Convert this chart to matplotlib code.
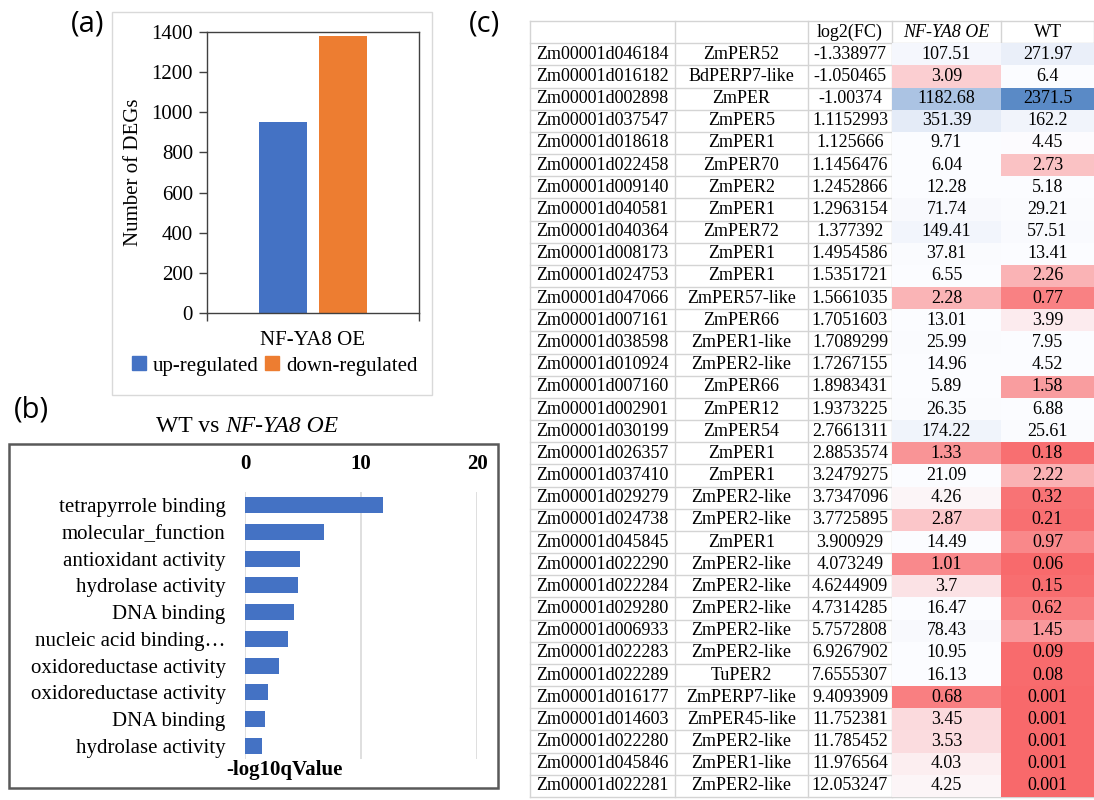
import numpy as np
import matplotlib
matplotlib.use("Agg")
import matplotlib.pyplot as plt
from matplotlib.patches import Rectangle, Patch
from matplotlib.colors import LinearSegmentedColormap, TwoSlopeNorm

# ---- data ----
# (a) number of DEGs
deg_groups = ["up-regulated", "down-regulated"]
deg_counts = [950, 1380]
deg_colors = ["#4472C4", "#ED7D31"]
deg_sample = "NF-YA8 OE"

# (b) GO enrichment
go_terms = ["tetrapyrrole binding", "molecular_function", "antioxidant activity",
            "hydrolase activity", "DNA binding", "nucleic acid binding\u2026",
            "oxidoreductase activity", "oxidoreductase activity", "DNA binding",
            "hydrolase activity"]
go_values = [11.9, 6.8, 4.7, 4.55, 4.25, 3.7, 2.9, 1.95, 1.72, 1.45]

# (c) peroxidase genes
gene_ids = ["Zm00001d046184", "Zm00001d016182", "Zm00001d002898", "Zm00001d037547",
            "Zm00001d018618", "Zm00001d022458", "Zm00001d009140", "Zm00001d040581",
            "Zm00001d040364", "Zm00001d008173", "Zm00001d024753", "Zm00001d047066",
            "Zm00001d007161", "Zm00001d038598", "Zm00001d010924", "Zm00001d007160",
            "Zm00001d002901", "Zm00001d030199", "Zm00001d026357", "Zm00001d037410",
            "Zm00001d029279", "Zm00001d024738", "Zm00001d045845", "Zm00001d022290",
            "Zm00001d022284", "Zm00001d029280", "Zm00001d006933", "Zm00001d022283",
            "Zm00001d022289", "Zm00001d016177", "Zm00001d014603", "Zm00001d022280",
            "Zm00001d045846", "Zm00001d022281"]
gene_names = ["ZmPER52", "BdPERP7-like", "ZmPER", "ZmPER5", "ZmPER1", "ZmPER70",
              "ZmPER2", "ZmPER1", "ZmPER72", "ZmPER1", "ZmPER1", "ZmPER57-like",
              "ZmPER66", "ZmPER1-like", "ZmPER2-like", "ZmPER66", "ZmPER12", "ZmPER54",
              "ZmPER1", "ZmPER1", "ZmPER2-like", "ZmPER2-like", "ZmPER1", "ZmPER2-like",
              "ZmPER2-like", "ZmPER2-like", "ZmPER2-like", "ZmPER2-like", "TuPER2",
              "ZmPERP7-like", "ZmPER45-like", "ZmPER2-like", "ZmPER1-like", "ZmPER2-like"]
log2fc = ["-1.338977", "-1.050465", "-1.00374", "1.1152993", "1.125666", "1.1456476",
          "1.2452866", "1.2963154", "1.377392", "1.4954586", "1.5351721", "1.5661035",
          "1.7051603", "1.7089299", "1.7267155", "1.8983431", "1.9373225", "2.7661311",
          "2.8853574", "3.2479275", "3.7347096", "3.7725895", "3.900929", "4.073249",
          "4.6244909", "4.7314285", "5.7572808", "6.9267902", "7.6555307", "9.4093909",
          "11.752381", "11.785452", "11.976564", "12.053247"]
oe_vals = [107.51, 3.09, 1182.68, 351.39, 9.71, 6.04, 12.28, 71.74, 149.41, 37.81,
           6.55, 2.28, 13.01, 25.99, 14.96, 5.89, 26.35, 174.22, 1.33, 21.09, 4.26,
           2.87, 14.49, 1.01, 3.7, 16.47, 78.43, 10.95, 16.13, 0.68, 3.45, 3.53, 4.03, 4.25]
wt_vals = [271.97, 6.4, 2371.5, 162.2, 4.45, 2.73, 5.18, 29.21, 57.51, 13.41, 2.26,
           0.77, 3.99, 7.95, 4.52, 1.58, 6.88, 25.61, 0.18, 2.22, 0.32, 0.21, 0.97,
           0.06, 0.15, 0.62, 1.45, 0.09, 0.08, 0.001, 0.001, 0.001, 0.001, 0.001]
table_header = ["", "", "log2(FC)", "NF-YA8 OE", "WT"]

# ---- layout helpers (pixel coords, origin top-left) ----
W, H = 1094, 800
plt.rcParams['font.family'] = ['Liberation Serif', 'DejaVu Serif']


def rect(x0, y0, x1, y1):
    return [x0 / W, 1 - y1 / H, (x1 - x0) / W, (y1 - y0) / H]


def ftext(x, y, s, **kw):
    fig.text(x / W, 1 - y / H, s, **kw)


fig = plt.figure(figsize=(W / 100, H / 100), dpi=100)

# ================= (a) =================
fig.add_artist(Rectangle((112 / W, 1 - 395 / H), 320 / W, 383 / H, transform=fig.transFigure,
                         fill=False, ec="#D9D9D9", lw=1))
ax1 = fig.add_axes(rect(207, 32, 419, 313))
offs = [-0.142, 0.142]
for c, off, v in zip(deg_colors, offs, deg_counts):
    ax1.bar(off, v, width=0.226, color=c)
ax1.set_xlim(-0.5, 0.5)
ax1.set_ylim(0, 1400)
ax1.set_yticks(np.arange(0, 1401, 200))
ax1.set_xticks([-0.5, 0.5], ["", ""])
ax1.tick_params(axis='both', direction='out', length=6, width=1, color="#404040",
                labelsize=15, pad=4)
for sp in ax1.spines.values():
    sp.set_color("#404040")
    sp.set_linewidth(1)
ftext(313, 340, deg_sample, ha='center', va='center', fontsize=15)
ftext(133, 172, "Number of DEGs", ha='center', va='center', rotation=90, fontsize=15)
handles = [Patch(color=c) for c in deg_colors]
fig.legend(handles, deg_groups, loc='center', bbox_to_anchor=(275 / W, 1 - 366 / H),
           ncol=2, frameon=False, fontsize=15, handlelength=0.65, handleheight=0.65,
           handletextpad=0.35, columnspacing=0.3, borderaxespad=0)

# ================= (b) =================
fig.add_artist(Rectangle((9 / W, 1 - 788 / H), 489 / W, 344 / H, transform=fig.transFigure,
                         fill=False, ec="#595959", lw=1.8))
ftext(219, 426, "WT vs", ha='right', va='center', fontsize=17)
ftext(225, 426, "NF-YA8 OE", ha='left', va='center', fontsize=17, style='italic')
ax2 = fig.add_axes(rect(245, 492, 477, 759))
ypos = np.arange(len(go_terms))
ax2.barh(ypos, go_values, height=0.6, color="#4472C4", zorder=3)
ax2.set_xlim(0, 20)
ax2.set_ylim(len(go_terms) - 0.5, -0.5)
ax2.set_xticks([0, 10, 20])
ax2.set_yticks(ypos, go_terms)
ax2.xaxis.tick_top()
ax2.tick_params(axis='x', length=0, labelsize=15, pad=13)
ax2.tick_params(axis='y', length=0, labelsize=15, pad=14)
for lab in ax2.get_xticklabels():
    lab.set_fontweight('bold')
ax2.grid(axis='x', color="#D9D9D9", lw=1.2)
ax2.set_axisbelow(True)
for sp in ax2.spines.values():
    sp.set_visible(False)
ftext(284, 770, "-log10qValue", ha='center', va='center', fontsize=15, fontweight='bold')

# ================= (c) =================
col_w = [145, 133, 84, 109, 93]
edges = np.concatenate([[0], np.cumsum(col_w)])
n_rows = len(gene_ids) + 1
ax3 = fig.add_axes(rect(530, 21, 530 + edges[-1], 797))
ax3.set_xlim(0, edges[-1])
ax3.set_ylim(n_rows, 0)
ax3.axis('off')

all_vals = np.array(oe_vals + wt_vals)
cmap = LinearSegmentedColormap.from_list("excel3", ["#F8696B", "#FCFCFF", "#5A8AC6"])
norm = TwoSlopeNorm(vmin=all_vals.min(), vcenter=np.median(all_vals), vmax=all_vals.max())

grid_c = "#D4D4D4"
# full-width lines for header and bottom, text columns only elsewhere
for r in range(n_rows + 1):
    x_end = edges[-1] if r in (0, 1, n_rows) else edges[3]
    ax3.plot([0, x_end], [r, r], color=grid_c, lw=1, zorder=1, clip_on=False)
for e in edges:
    ax3.plot([e, e], [0, n_rows], color=grid_c, lw=1, zorder=1, clip_on=False)

fs = 13
for j, h in enumerate(table_header):
    ax3.text((edges[j] + edges[j + 1]) / 2, 0.5, h, ha='center', va='center', fontsize=fs,
             style='italic' if h == "NF-YA8 OE" else 'normal')

for i in range(len(gene_ids)):
    r = i + 1
    cells = [gene_ids[i], gene_names[i], log2fc[i], f"{oe_vals[i]}", f"{wt_vals[i]}"]
    for col, v in zip([3, 4], [oe_vals[i], wt_vals[i]]):
        ax3.add_patch(Rectangle((edges[col], r), col_w[col], 1, fc=cmap(norm(v)),
                                ec='none', zorder=2))
    for j, s in enumerate(cells):
        ax3.text((edges[j] + edges[j + 1]) / 2, r + 0.5, s, ha='center', va='center',
                 fontsize=fs, zorder=3)

# panel letters
ftext(88, 24, "(a)", ha='center', va='center', fontsize=21, family='Open Sans')
ftext(31, 410, "(b)", ha='center', va='center', fontsize=21, family='Open Sans')
ftext(485, 24, "(c)", ha='center', va='center', fontsize=21, family='Open Sans')

fig.savefig("out.png", dpi=100)
